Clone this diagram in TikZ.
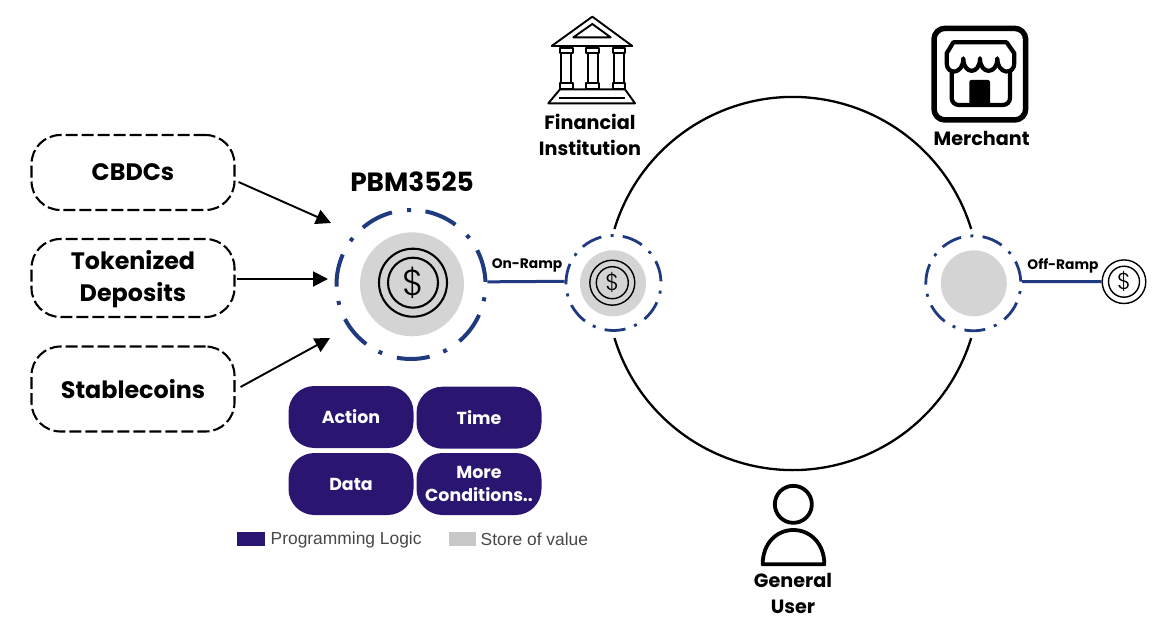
\documentclass[tikz,border=0pt]{standalone}
\usepackage{fontspec}
\setmainfont{Poppins}
\newfontfamily\legendfont{Liberation Sans}
\newfontfamily\coinfont{Poppins Light}
\usepackage{xcolor}
\usetikzlibrary{arrows.meta,positioning,calc}
\definecolor{navy}{HTML}{1F3A7E}
\definecolor{logic}{HTML}{2A1570}
\definecolor{store}{HTML}{D4D4D4}
\definecolor{swatch}{HTML}{C8C8C8}
\begin{document}
\begin{tikzpicture}[x=1pt,y=-1pt,
  srcbox/.style={draw,line width=2.1pt,dash pattern=on 12pt off 4pt,rounded corners=29pt,minimum width=203pt,inner sep=0pt,align=center,font=\bfseries\fontsize{23.8}{32}\selectfont},
  logicbox/.style={fill=logic,text=white,rounded corners=26pt,minimum width=125pt,minimum height=62pt,inner sep=0pt,align=center,font=\bfseries\fontsize{17.4}{23}\selectfont},
  ringbig/.style={circle,draw=navy,line width=4pt,minimum size=149pt,inner sep=0pt,dash pattern=on 33pt off 14.5pt on 4pt off 15.37pt,dash phase=64.3pt},
  ringsmall/.style={circle,draw=navy,line width=2.8pt,minimum size=95pt,inner sep=0pt,dash pattern=on 21pt off 9.2pt on 3pt off 9.44pt,dash phase=41pt},
  disc/.style={circle,fill=store,inner sep=0pt},
  coinout/.style={circle,draw,fill=none,inner sep=0pt},
  iconlabel/.style={font=\bfseries\fontsize{19.2}{26}\selectfont,align=center,inner sep=0pt},
  ramplabel/.style={font=\bfseries\fontsize{13.8}{16}\selectfont,inner sep=0pt},
  legendtext/.style={font=\legendfont\fontsize{17.4}{20}\selectfont,text=black!72,inner sep=0pt,anchor=west},
  arr/.style={-{Triangle[length=15pt,width=15pt]},line width=1.9pt},
  ramp/.style={navy,line width=3pt},
  loopline/.style={line width=2.3pt}]
\useasboundingbox (0,0) rectangle (1170,629);
% input tokens
\node[srcbox,minimum height=75pt] (bxCbdc) at (133,172.5) {CBDCs};
\node[srcbox,minimum height=78pt] (bxDep) at (133,278) {\raisebox{-2pt}[0.7em][0.2em]{Tokenized}\\\raisebox{-2pt}[0.7em][0.2em]{Deposits}};
\node[srcbox,minimum height=85pt] (bxStable) at (133,389) {Stablecoins};
\coordinate (tipCbdc) at (331,223);
\coordinate (tipDep) at (328,279);
\coordinate (tipStable) at (330,338);
\draw[arr] ($(bxCbdc.east)+(3,9.5)$) -- (tipCbdc);
\draw[arr] (bxDep.east) ++(1,1) -- (tipDep);
\draw[arr] ($(bxStable.east)+(5,-2)$) -- (tipStable);
% PBM
\node[font=\bfseries\fontsize{26.4}{30}\selectfont,inner sep=0pt] (lbPbm) at (412,182) {PBM3525};
\node[disc,minimum size=104pt] (dcPbm) at (412,284.3) {};
\node[ringbig] (rgPbm) at (411,284.5) {};
\node[coinout,line width=2.1pt,minimum size=68pt] (cnPbm) at (413,282.7) {};
\node[coinout,line width=2.1pt,minimum size=50pt,font=\coinfont\fontsize{36}{36}\selectfont] (cnPbmIn) at (413,282.7) {\$};
% logic
\node[logicbox] (bxAction) at (351,417) {Action};
\node[logicbox] (bxTime) at (479,417.7) {Time};
\node[logicbox] (bxData) at (351,484) {Data};
\node[logicbox] (bxMore) at (479,484) {More\\Conditions..};
% legend
\node[fill=logic,minimum width=27.5pt,minimum height=14pt,inner sep=0pt] (lgLogic) at (251,538.7) {};
\node[legendtext] (txLogic) at (270.5,540) {Programming Logic};
\node[fill=swatch,minimum width=27pt,minimum height=14pt,inner sep=0pt] (lgStore) at (462.5,538.7) {};
\node[legendtext] (txStore) at (480.5,539.5) {Store of value};
% loop
\node[circle,minimum size=373pt,inner sep=0pt] (loopC) at (793,283.5) {};
\draw[loopline] (loopC.163) arc[start angle=163,end angle=17,radius=186.5pt];
\draw[loopline] (loopC.197) arc[start angle=197,end angle=343,radius=186.5pt];
% ramps
\node[disc,minimum size=66pt] (dcOn) at (613,283.3) {};
\node[ringsmall] (rgOn) at (613.5,283) {};
\node[coinout,line width=1.4pt,minimum size=45pt] (cnOn) at (612.3,282.7) {};
\node[coinout,line width=1.4pt,minimum size=32pt,font=\coinfont\fontsize{23}{23}\selectfont] (cnOnIn) at (612.3,282.7) {\$};
\node[disc,minimum size=66pt] (dcOff) at (973.8,283.3) {};
\node[ringsmall] (rgOff) at (973.3,283.3) {};
\node[coinout,line width=1.4pt,minimum size=43.6pt] (cnOff) at (1124,281.7) {};
\node[coinout,line width=1.4pt,minimum size=31pt,font=\coinfont\fontsize{23}{23}\selectfont] (cnOffIn) at (1124,281.7) {\$};
\draw[ramp] (rgPbm.2) -- (rgOn.178);
\draw[ramp] (rgOff.2) -- (cnOff.west);
\node[ramplabel] (lbOn) at (527,265.7) {On-Ramp};
\node[ramplabel] (lbOff) at (1063,266) {Off-Ramp};
% bank
\begin{scope}[shift={(520,0)},x=0.3333pt,y=-0.3333pt,line width=1.9pt,line join=round]
\draw (217,50) -- (337,138) -- (95,138) -- cycle;
\draw (217,72) -- (272,112) -- (160,112) -- cycle;
\foreach \cx in {139,218,297}{
  \draw (\cx-19,145) rectangle (\cx+19,160);
  \draw (\cx-15,160) rectangle (\cx+15,250);
  \draw (\cx-19,250) rectangle (\cx+19,268);
}
\draw (120,268) -- (315,268) -- (345,310) -- (85,310) -- cycle;
\draw (118,295) -- (315,295);
\end{scope}
\node[iconlabel] (lbBank) at (590,135) {Financial\\Institution};
% shop
\begin{scope}[shift={(910,10)},x=0.3333pt,y=-0.3333pt,line join=round]
\draw[line width=5.5pt,rounded corners=11pt] (72,55) rectangle (347,330);
\draw[line width=4.2pt] (130,97) -- (290,97) -- (313,130) -- (313,160)
  .. controls (313,195) and (262,195) .. (262,145)
  .. controls (262,195) and (210,195) .. (210,145)
  .. controls (210,195) and (160,195) .. (160,145)
  .. controls (160,195) and (110,195) .. (110,160)
  -- (110,130) -- cycle;
\draw[line width=4.2pt,rounded corners=7pt] (125,185) -- (125,285) -- (300,285) -- (300,185);
\fill[rounded corners=2pt] (178,210) rectangle (240,285);
\end{scope}
\node[iconlabel] (lbShop) at (981.7,138) {Merchant};
% person
\begin{scope}[shift={(730,470)},x=0.3333pt,y=-0.3333pt,line width=3.8pt,line join=round]
\draw (190,103) circle[radius=18.5pt];
\draw (98,283) .. controls (98,220) and (140,180) .. (190,180) .. controls (240,180) and (283,220) .. (283,283) -- cycle;
\end{scope}
\node[iconlabel] (lbUser) at (793,593.7) {General\\User};
\end{tikzpicture}
\end{document}
